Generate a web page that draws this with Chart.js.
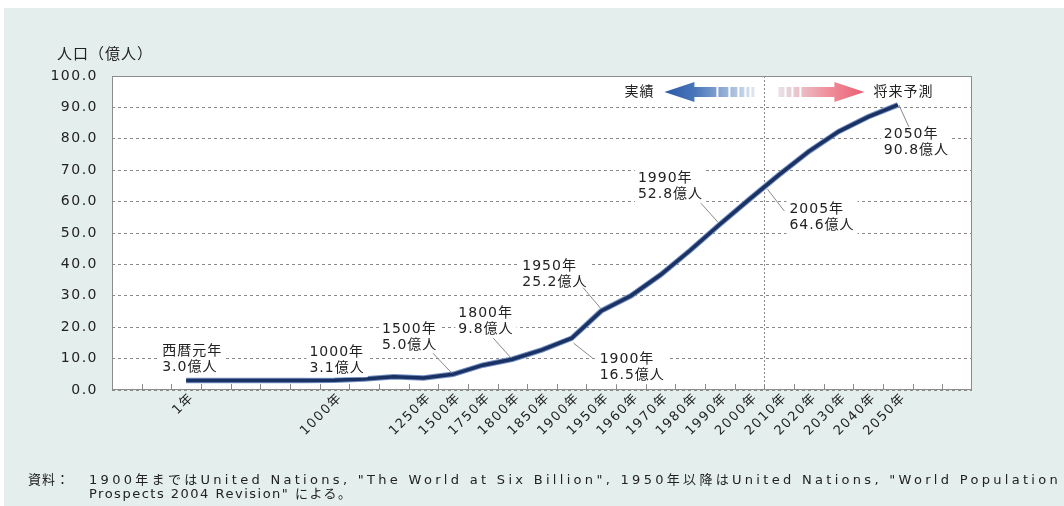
<!DOCTYPE html>
<html lang="ja">
<head>
  <meta charset="UTF-8" />
  <title>世界人口の推移</title>
  <script src="https://cdn.jsdelivr.net/npm/chart.js"></script>
  <style>
    body {
      margin: 0;
      width: 1064px;
      height: 506px;
      overflow: hidden;
      background: #fff;
      font-family: "DejaVu Sans", "Noto Sans CJK JP", sans-serif;
    }
    .panel {
      position: absolute;
      left: 4px; top: 8px; right: 0; bottom: 0;
      background: #e4eeec;
    }
    #chart {
      position: absolute;
      left: 0; top: 0;
    }
    .note {
      position: absolute;
      left: 28px;
      top: 473px;
      font-size: 13px;
      line-height: 14px;
      color: #222;
      white-space: nowrap;
    }
    .note .l1 { letter-spacing: 3.3px; }
    .note .lbl { display: inline-block; width: 61px; letter-spacing: 1px; }
    .note .l2 { padding-left: 61px; letter-spacing: 1.5px; }
  </style>
</head>
<body>
  <div class="panel"></div>
  <canvas id="chart" width="1064" height="506"></canvas>
  <div class="note">
    <div class="l1"><span class="lbl">資料：</span>1900年まではUnited Nations, "The World at Six Billion", 1950年以降はUnited Nations, "World Population</div>
    <div class="l2">Prospects 2004 Revision" による。</div>
  </div>

  <script>
    const FONT = '"DejaVu Sans", "Noto Sans CJK JP", sans-serif';

    // x categories (blank ones keep the uneven spacing of the original)
    const categories = ['', '', '1年', '', '', '', '', '1000年', '', '', '1250年', '1500年',
      '1750年', '1800年', '1850年', '1900年', '1950年', '1960年', '1970年', '1980年',
      '1990年', '2000年', '2010年', '2020年', '2030年', '2040年', '2050年', '', ''];
    // world population, 億人
    const population = [null, null, 3.0, 3.0, 3.0, 3.0, 3.0, 3.1, 3.5, 4.2, 3.8, 5.0,
      7.9, 9.8, 12.8, 16.5, 25.2, 30.0, 36.7, 44.5,
      52.8, 60.8, 68.6, 76.0, 82.3, 87.0, 90.8, null, null];
    const yTicks = [0, 10, 20, 30, 40, 50, 60, 70, 80, 90, 100];

    // callouts: category position, first line, value
    const noteIdx = [2, 7, 11, 13, 15, 16, 20, 21.5, 26];
    const noteYear = ['西暦元年', '1000年', '1500年', '1800年', '1900年', '1950年', '1990年', '2005年', '2050年'];
    const noteValue = [3.0, 3.1, 5.0, 9.8, 16.5, 25.2, 52.8, 64.6, 90.8];
    // text offset from the point, plus leader line (relative), in px
    const noteLayout = [
      { dx: -24, dy: -29 },
      { dx: -25, dy: -28 },
      { dx: -71, dy: -45, lead: [-20, -21, -1, -1] },
      { dx: -54, dy: -46, lead: [-19, -21, -2, -2] },
      { dx: 28, dy: 21, lead: [2, 5, 21, 20] },
      { dx: -79, dy: -45, lead: [-18, -23, -1, -3] },
      { dx: -82, dy: -46, lead: [-19, -21, -2, -2] },
      { dx: 25, dy: 22, lead: [3, 2, 20, 24] },
      { dx: -14, dy: 29, lead: [1, 0, 11, 22] }
    ];
    const splitIdx = 21.5; // boundary between 実績 and 将来予測

    const decor = {
      id: 'decor',
      beforeDraw(chart) {
        const { ctx, chartArea: a } = chart;
        ctx.letterSpacing = '1.5px';
        ctx.save();
        ctx.fillStyle = '#fff';
        ctx.fillRect(a.left, a.top, a.width, a.height);
        ctx.restore();
      },
      beforeDatasetsDraw(chart) {
        const { ctx, chartArea: a, scales: { x } } = chart;
        ctx.save();
        // tick marks between categories
        ctx.strokeStyle = '#8a8a8a';
        ctx.lineWidth = 1;
        ctx.beginPath();
        for (let i = 1; i < categories.length; i++) {
          const px = Math.round(x.getPixelForValue(i - 0.5)) + 0.5;
          ctx.moveTo(px, a.bottom);
          ctx.lineTo(px, a.bottom - 6);
        }
        ctx.stroke();
        // dotted split line
        const sx = Math.round(x.getPixelForValue(splitIdx)) + 0.5;
        ctx.setLineDash([2, 2]);
        ctx.strokeStyle = '#888';
        ctx.beginPath();
        ctx.moveTo(sx, a.top);
        ctx.lineTo(sx, a.bottom);
        ctx.stroke();
        ctx.setLineDash([]);
        // frame
        ctx.strokeStyle = '#8c8c8c';
        ctx.strokeRect(Math.round(a.left) + 0.5, Math.round(a.top) + 0.5,
          Math.round(a.width) - 1, Math.round(a.height) - 1);
        ctx.restore();
      },
      afterDatasetsDraw(chart) {
        const { ctx, scales: { x, y } } = chart;
        ctx.save();
        ctx.font = '14px ' + FONT;
        ctx.letterSpacing = '1px';
        ctx.textBaseline = 'middle';
        noteIdx.forEach((idx, i) => {
          const px = x.getPixelForValue(idx);
          const py = y.getPixelForValue(noteValue[i]);
          const L = noteLayout[i];
          const t1 = noteYear[i];
          const t2 = noteValue[i].toFixed(1) + '億人';
          const tx = px + L.dx, ty = py + L.dy;
          const w = Math.max(ctx.measureText(t1).width, ctx.measureText(t2).width);
          ctx.fillStyle = '#fff';
          ctx.fillRect(tx - 3, ty - 9, w + 6, 34);
          if (L.lead) {
            ctx.strokeStyle = '#8a8a8a';
            ctx.lineWidth = 1;
            ctx.beginPath();
            ctx.moveTo(px + L.lead[0], py + L.lead[1]);
            ctx.lineTo(px + L.lead[2], py + L.lead[3]);
            ctx.stroke();
          }
          ctx.fillStyle = '#222';
          ctx.fillText(t1, tx, ty);
          ctx.fillText(t2, tx, ty + 16);
        });
        ctx.restore();
      },
      afterDraw(chart) {
        const { ctx, scales: { x } } = chart;
        const sx = x.getPixelForValue(splitIdx);
        const cy = 92;
        ctx.save();
        // axis title
        ctx.font = '15px ' + FONT;
        ctx.letterSpacing = '1px';
        ctx.fillStyle = '#222';
        ctx.textBaseline = 'middle';
        ctx.fillText('人口（億人）', 57, 55);

        // 実績 arrow (blue, pointing left)
        const gb = ctx.createLinearGradient(sx - 100, 0, sx - 10, 0);
        gb.addColorStop(0, '#2b5aa6');
        gb.addColorStop(0.35, '#4a77bb');
        gb.addColorStop(1, '#dfe7f1');
        ctx.fillStyle = gb;
        ctx.beginPath();
        ctx.moveTo(sx - 100, cy);
        ctx.lineTo(sx - 70, cy - 10);
        ctx.lineTo(sx - 70, cy - 5);
        ctx.lineTo(sx - 48, cy - 5);
        ctx.lineTo(sx - 48, cy + 5);
        ctx.lineTo(sx - 70, cy + 5);
        ctx.lineTo(sx - 70, cy + 10);
        ctx.closePath();
        ctx.fill();
        [[-46, -36], [-34, -27], [-25, -20], [-18, -15], [-13, -10]].forEach(s => {
          ctx.fillRect(sx + s[0], cy - 5, s[1] - s[0], 10);
        });

        // 将来予測 arrow (pink, pointing right)
        const gp = ctx.createLinearGradient(sx + 12, 0, sx + 100, 0);
        gp.addColorStop(0, '#e8e6ec');
        gp.addColorStop(0.6, '#ef8e9a');
        gp.addColorStop(1, '#ea6072');
        ctx.fillStyle = gp;
        [[14, 20], [22, 27], [29, 35]].forEach(s => {
          ctx.fillRect(sx + s[0], cy - 5, s[1] - s[0], 10);
        });
        ctx.beginPath();
        ctx.moveTo(sx + 37, cy - 5);
        ctx.lineTo(sx + 70, cy - 5);
        ctx.lineTo(sx + 70, cy - 10);
        ctx.lineTo(sx + 100, cy);
        ctx.lineTo(sx + 70, cy + 10);
        ctx.lineTo(sx + 70, cy + 5);
        ctx.lineTo(sx + 37, cy + 5);
        ctx.closePath();
        ctx.fill();

        ctx.font = '14px ' + FONT;
        ctx.fillStyle = '#222';
        ctx.textAlign = 'right';
        ctx.fillText('実績', sx - 110, cy);
        ctx.textAlign = 'left';
        ctx.fillText('将来予測', sx + 109, cy);
        ctx.restore();
      }
    };

    new Chart(document.getElementById('chart'), {
      type: 'line',
      data: {
        labels: categories,
        datasets: [
          {
            data: population,
            borderColor: '#1a3163',
            borderWidth: 3.5,
            pointRadius: 0,
            tension: 0,
            fill: false
          },
          {
            data: population,
            borderColor: '#7490c2',
            borderWidth: 5.5,
            pointRadius: 0,
            tension: 0,
            fill: false
          }
        ]
      },
      options: {
        responsive: false,
        animation: false,
        layout: { padding: { top: 76, right: 92, bottom: 0, left: 0 } },
        plugins: {
          legend: { display: false },
          tooltip: { enabled: false }
        },
        scales: {
          x: {
            type: 'category',
            offset: true,
            grid: { display: false, offset: true },
            border: { display: false },
            ticks: {
              autoSkip: false,
              maxRotation: 45,
              minRotation: 45,
              padding: -8,
              labelOffset: 6,
              color: '#222',
              font: { family: FONT, size: 13 }
            },
            afterFit(s) { s.height = 116; }
          },
          y: {
            min: 0,
            max: 100,
            afterBuildTicks(s) { s.ticks = yTicks.map(v => ({ value: v })); },
            ticks: {
              padding: 14,
              color: '#222',
              font: { family: FONT, size: 14 },
              callback: v => v.toFixed(1)
            },
            grid: { color: '#8a8a8a', drawTicks: false, tickLength: 0 },
            border: { display: false, dash: [3, 3] },
            afterFit(s) { s.width = 112; }
          }
        }
      },
      plugins: [decor]
    });
  </script>
</body>
</html>
